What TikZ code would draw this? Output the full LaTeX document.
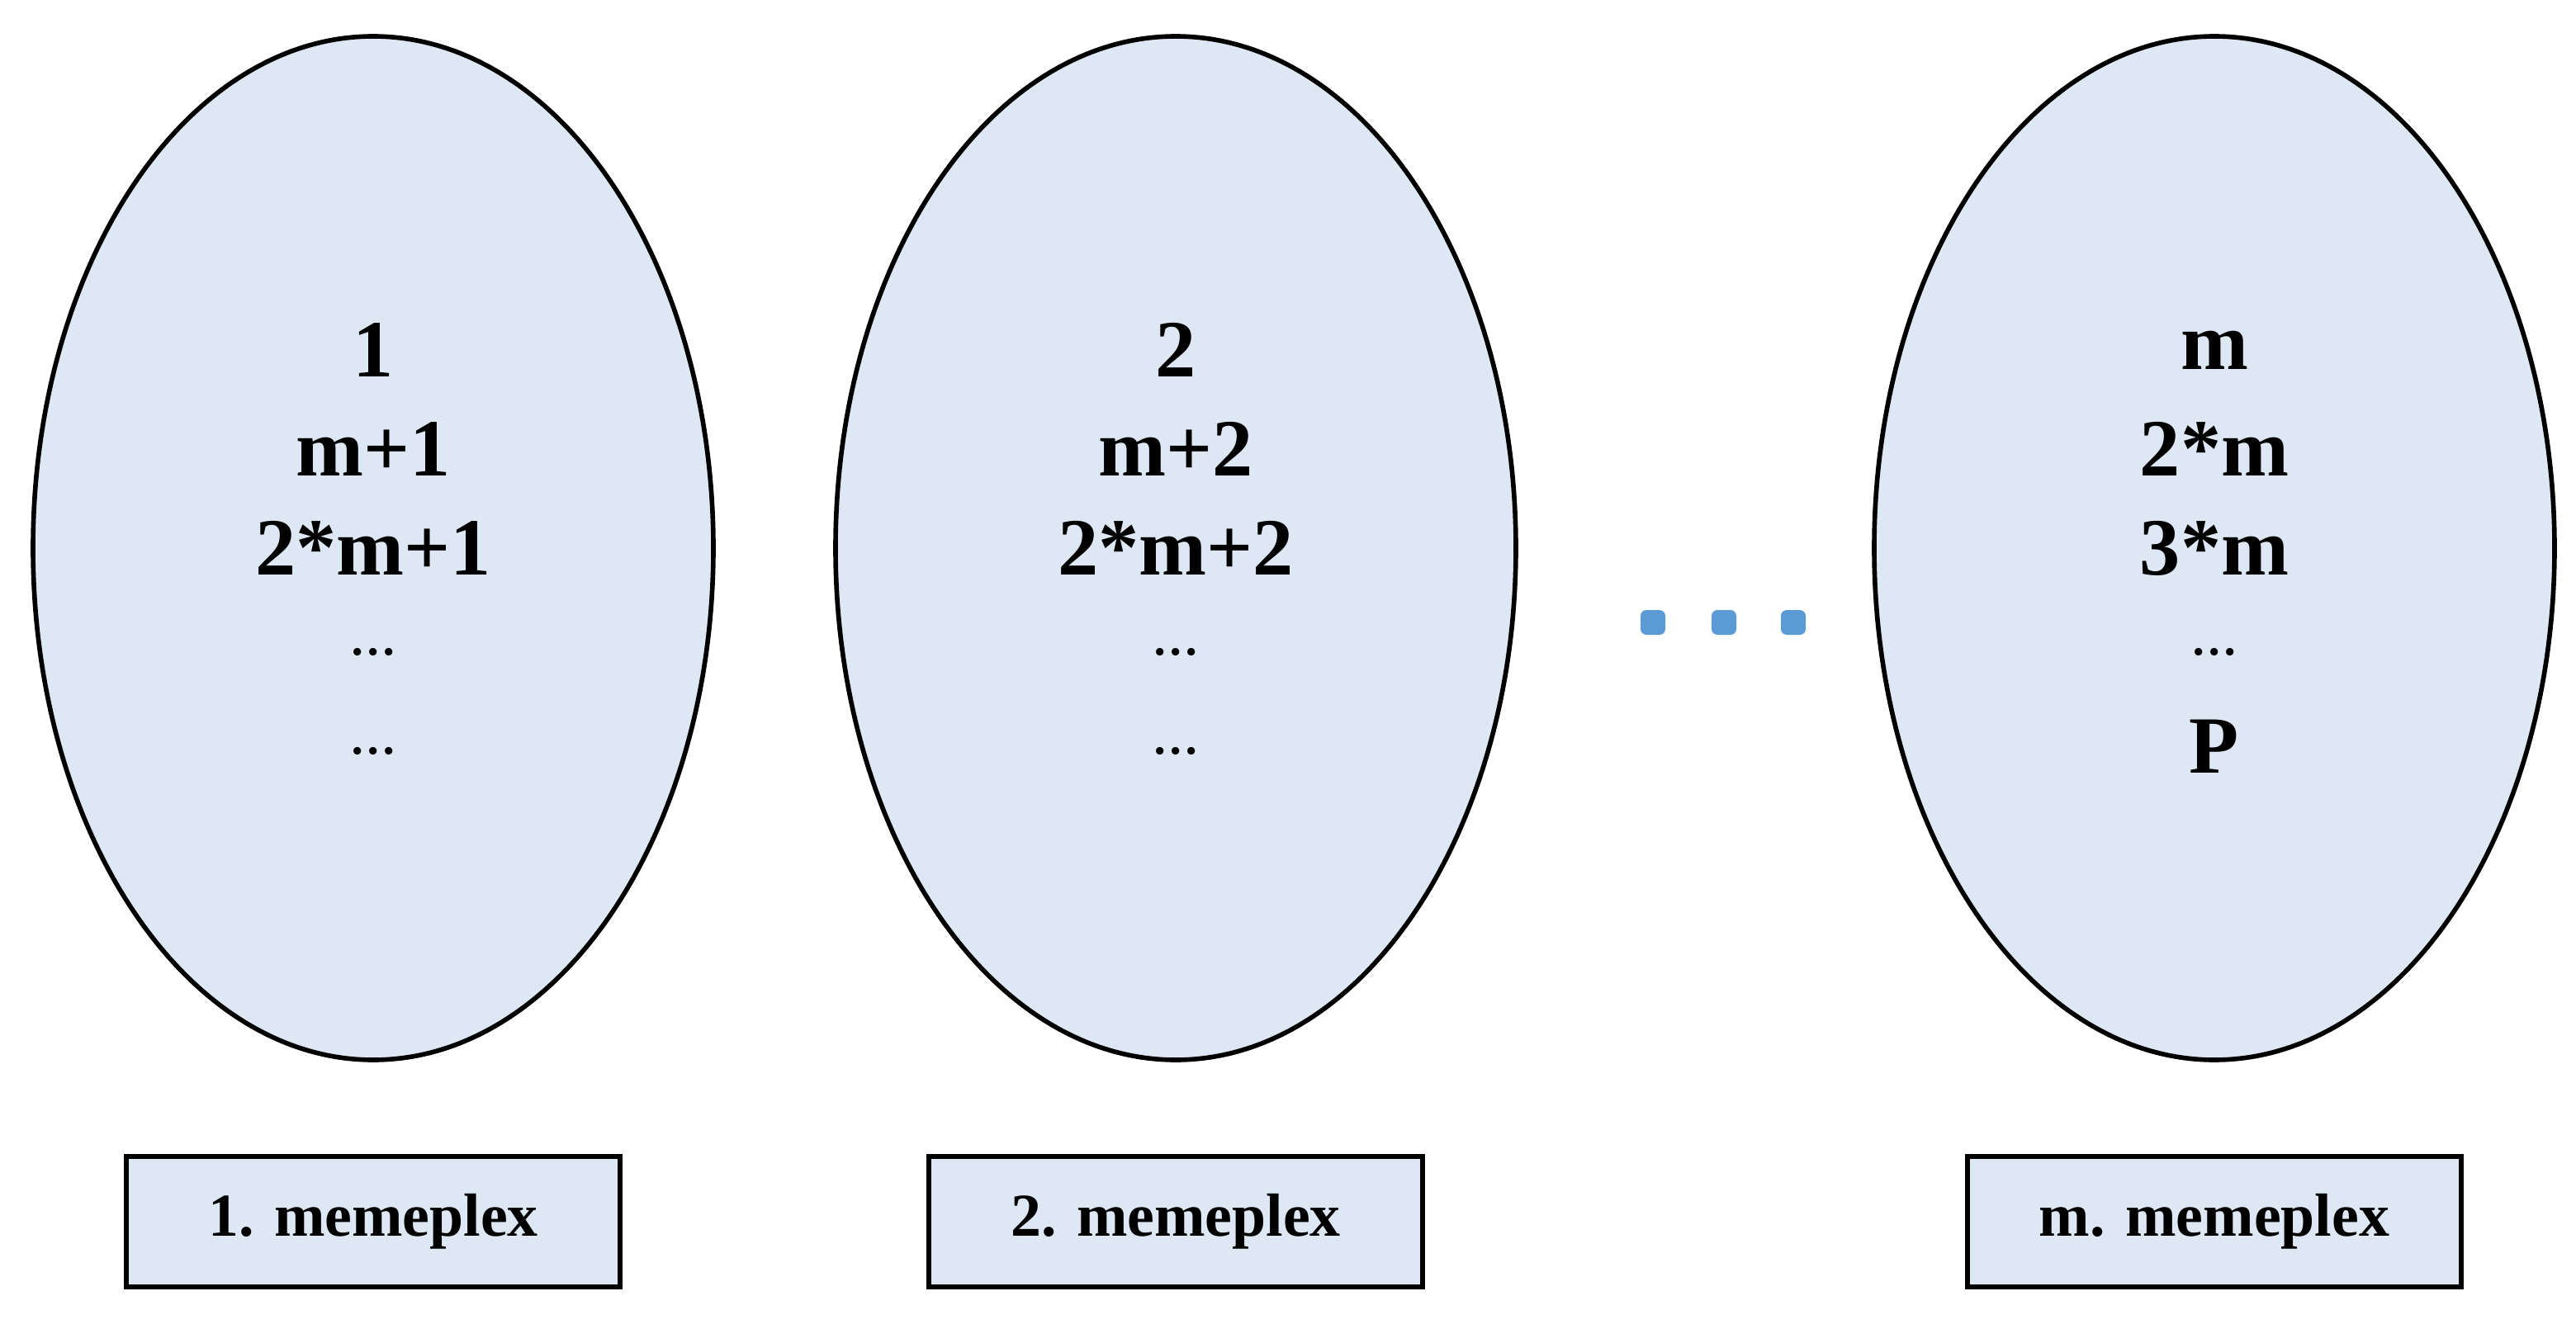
\documentclass[tikz,border=0pt]{standalone}
\usepackage{fontspec}
\setmainfont{Liberation Serif}
\begin{document}
\begin{tikzpicture}[x=0.02cm,y=-0.02cm,
  bx/.style={draw=black,line width=1.6pt,fill=fillc,minimum width=5.98cm,minimum height=1.58cm,font=\fontsize{21}{24}\selectfont\bfseries},
  tx/.style={font=\fontsize{28}{32}\selectfont\bfseries},
  el/.style={font=\fontsize{22}{26}\selectfont},
  dt/.style={fill=dotc,rounded corners=2pt,minimum size=0.3cm,inner sep=0}]
\definecolor{fillc}{HTML}{DEE8F4}
\definecolor{dotc}{HTML}{5B9BD5}
\useasboundingbox (0,0) rectangle (1560,805);
\foreach \n/\cx in {e1/226,e2/712,e3/1341}{
  \filldraw[fill=fillc,draw=black,line width=1.6pt] (\cx,332) ellipse [x radius=206, y radius=310];
  \coordinate (\n) at (\cx,332);
}
\node[tx] (a1) at (226,212) {1};
\node[tx] (a2) at (226,272) {m+1};
\node[tx] (a3) at (226,332) {2*m+1};
\node[el] (a4) at (226,395) {...};
\node[el] (a5) at (226,455) {...};
\node[tx] (b1) at (712,212) {2};
\node[tx] (b2) at (712,272) {m+2};
\node[tx] (b3) at (712,332) {2*m+2};
\node[el] (b4) at (712,395) {...};
\node[el] (b5) at (712,455) {...};
\node[tx] (c1) at (1341,212) {m};
\node[tx] (c2) at (1341,272) {2*m};
\node[tx] (c3) at (1341,332) {3*m};
\node[el] (c4) at (1341,395) {...};
\node[tx] (c5) at (1341,452) {P};
\node[dt] (d1) at (1001,377) {};
\node[dt] (d2) at (1044,377) {};
\node[dt] (d3) at (1086,377) {};
\node[bx] (l1) at (226,740) {1. memeplex};
\node[bx] (l2) at (712,740) {2. memeplex};
\node[bx] (l3) at (1341,740) {m. memeplex};
\end{tikzpicture}
\end{document}
